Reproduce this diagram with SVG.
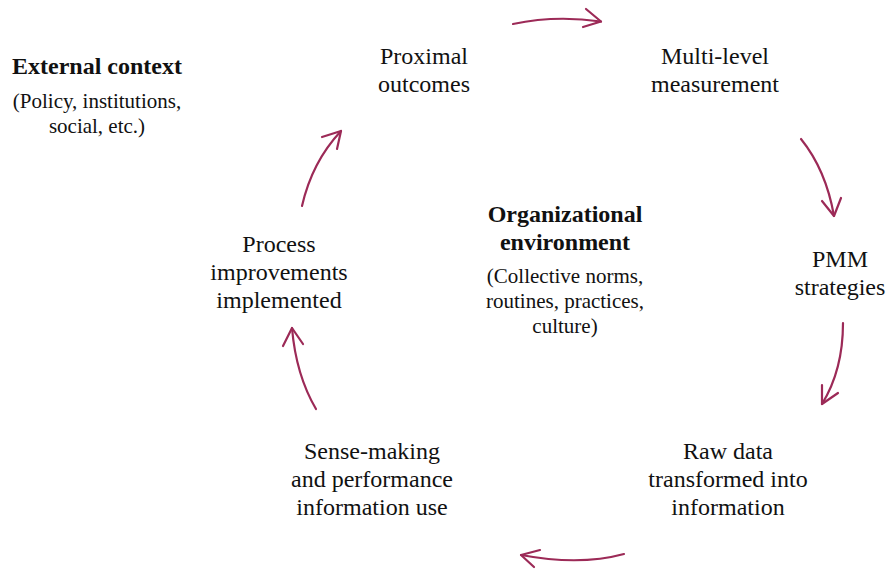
<svg xmlns="http://www.w3.org/2000/svg" width="887" height="569" viewBox="0 0 887 569">
<style>
text{font-family:"Liberation Serif","Times New Roman",serif;fill:#111;text-anchor:middle}
.n{font-size:24px}
.b{font-size:24px;font-weight:bold}
.s{font-size:21px}
.c path{fill:none;stroke:#9c2a57;stroke-width:2.2;stroke-linecap:round;stroke-linejoin:round}
</style>
<rect width="887" height="569" fill="#fff"/>
<g id="external"><text class="b" x="97" y="74">External context</text><text class="s" x="97" y="108">(Policy, institutions,</text><text class="s" x="97" y="133">social, etc.)</text></g>
<g id="proximal"><text class="n" x="424" y="64">Proximal</text><text class="n" x="424" y="92">outcomes</text></g>
<g id="multilevel"><text class="n" x="715" y="64">Multi-level</text><text class="n" x="715" y="92">measurement</text></g>
<g id="pmm"><text class="n" x="840" y="267">PMM</text><text class="n" x="840" y="295">strategies</text></g>
<g id="rawdata"><text class="n" x="728" y="459">Raw data</text><text class="n" x="728" y="487">transformed into</text><text class="n" x="728" y="515">information</text></g>
<g id="sensemaking"><text class="n" x="372" y="459">Sense-making</text><text class="n" x="372" y="487">and performance</text><text class="n" x="372" y="515">information use</text></g>
<g id="process"><text class="n" x="279" y="252">Process</text><text class="n" x="279" y="280">improvements</text><text class="n" x="279" y="308">implemented</text></g>
<g id="org"><text class="b" x="565" y="222">Organizational</text><text class="b" x="565" y="250">environment</text><text class="s" x="565" y="283">(Collective norms,</text><text class="s" x="565" y="308">routines, practices,</text><text class="s" x="565" y="333">culture)</text></g>
<g id="connectors" class="c">
<path d="M513,24 Q555,15 601,21.5"/><path d="M586,9 L601,21.5 L583,27"/>
<path d="M801,139 Q826,170 834,216"/><path d="M822,201 L834,216 L841,198"/>
<path d="M843,323 Q843,370 822,404"/><path d="M822,385 L822,404 L838,393"/>
<path d="M624,554 Q580,566 521,555"/><path d="M540,550 L521,555 L534,567"/>
<path d="M316,409 Q296,375 292,328"/><path d="M283,346 L292,328 L303,344"/>
<path d="M302,206 Q312,162 341,131"/><path d="M322,137 L341,131 L337,149"/>
</g>
</svg>
